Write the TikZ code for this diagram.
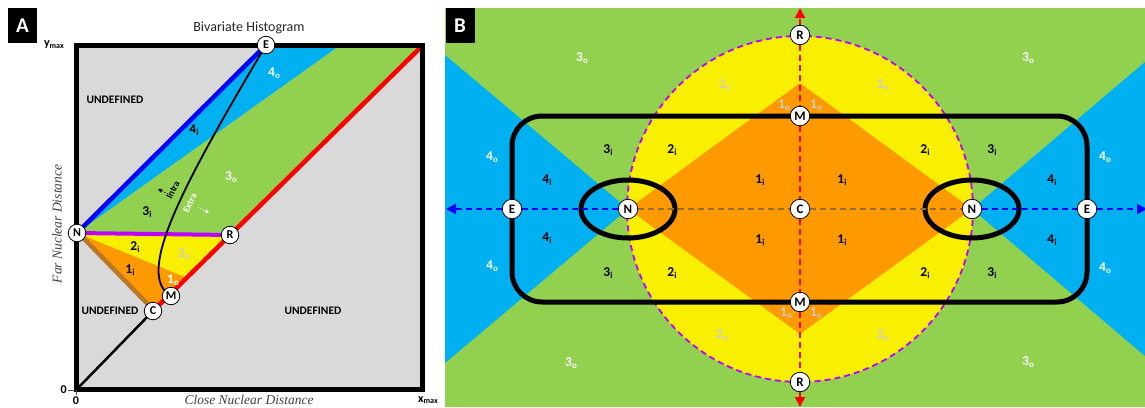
\documentclass[tikz,border=0pt]{standalone}
\usepackage{fontspec}
\setmainfont{Carlito}
\newfontfamily\axfont{Liberation Serif}
\usetikzlibrary{arrows.meta}
\definecolor{cgray}{RGB}{217,217,217}
\definecolor{cgreen}{RGB}{146,208,80}
\definecolor{cblue}{RGB}{0,176,240}
\definecolor{cdblue}{RGB}{0,0,255}
\definecolor{cyellow}{RGB}{248,240,0}
\definecolor{corange}{RGB}{255,153,0}
\definecolor{cbrown}{RGB}{185,120,40}
\definecolor{cmag}{RGB}{190,0,255}
\definecolor{cred}{RGB}{255,0,0}
\definecolor{cdash}{RGB}{150,110,50}
\definecolor{clgray}{RGB}{205,205,205}
\definecolor{ctext}{RGB}{64,64,64}
\pgfdeclarelayer{bg}
\pgfsetlayers{bg,main}
\newcommand\rg[2]{#1\raisebox{-0.3ex}{\fontsize{9}{9}\selectfont #2}}
\tikzset{
  ptA/.style={circle, draw=black, fill=white, line width=0.8pt, inner sep=0pt, minimum size=17.5pt, font=\fontsize{12}{12}\selectfont\bfseries},
  ptB/.style={ptA, minimum size=19.5pt, font=\fontsize{13}{13}\selectfont\bfseries},
  lab/.style={font=\fontsize{13.5}{13.5}\selectfont\bfseries, inner sep=0pt},
  labw/.style={lab, text=white},
  labg/.style={lab, text=clgray},
  undef/.style={font=\fontsize{11.5}{11.5}\selectfont\bfseries, inner sep=0pt},
  panel/.style={fill=black, text=white, minimum width=29pt, minimum height=35pt, inner sep=0pt, font=\fontsize{21}{21}\selectfont\bfseries},
  reddash/.style={cred, line width=2pt, dash pattern=on 6pt off 4pt},
  bluedash/.style={cdblue, line width=2.2pt, dash pattern=on 6pt off 4pt},
  browndash/.style={cdash, line width=1.8pt, dash pattern=on 6pt off 4pt},
  tip/.style={-{Triangle[length=10pt,width=10pt]}},
  axlab/.style={font=\axfont\itshape\fontsize{13.5}{13.5}\selectfont, text=ctext, inner sep=0pt},
  ticklab/.style={font=\fontsize{12}{12}\selectfont\bfseries, inner sep=0pt},
}
\begin{document}
\begin{tikzpicture}[x=1pt,y=-1pt]
\useasboundingbox (0,0) rectangle (1145,407);
% ---------------- nodes ----------------
\node[ptA] (aN) at (77,233) {N};
\node[ptA] (aE) at (266,45) {E};
\node[ptA] (aR) at (230,235) {R};
\node[ptA] (aM) at (171,296) {M};
\node[ptA] (aC) at (153,311) {C};
\coordinate (aO) at (79,387);
\coordinate (aTR) at (420,48);

\node[ptB] (bRt) at (800,35) {R};
\node[ptB] (bMt) at (800,116) {M};
\node[ptB] (bC) at (800,209) {C};
\node[ptB] (bMb) at (800,302) {M};
\node[ptB] (bRb) at (800,382) {R};
\node[ptB] (bNL) at (628,209) {N};
\node[ptB] (bNR) at (972,209) {N};
\node[ptB] (bEL) at (512,209) {E};
\node[ptB] (bER) at (1087,209) {E};
\coordinate (bTop) at (800,8);
\coordinate (bBot) at (800,407);
\coordinate (bLeft) at (446,209);
\coordinate (bRight) at (1147,209);

\begin{pgfonlayer}{bg}
% ---------------- panel A ----------------
\fill[cgray] (79,48) rectangle (420,387);
\fill[cblue] (77,233) -- (266,47) -- (338,47) -- cycle;
\fill[cgreen] (77,233) -- (338,47) -- (421,47) -- (230,235) -- cycle;
\fill[cyellow] (77,233) -- (230,235) -- (187,278) -- cycle;
\fill[corange] (77,233) -- (187,278) -- (153,311) -- cycle;
\draw[cbrown, line width=4.5pt] ([xshift=1.5pt]aN.center) -- ([xshift=1.5pt]aC.center);
\draw[black, line width=2.5pt] (aO) -- (aC.center);
\draw[cred, line width=4.5pt] (aC.center) -- (aTR);
\draw[cdblue, line width=4.5pt] (aN.center) -- (aE.center);
\draw[cmag, line width=4pt] (aN.center) -- (aR.center);
\draw[black, line width=1.8pt] (aE.center) .. controls (180,190) and (135,275) .. (aM.center);
\draw[black, line width=5pt] (76.5,45.5) rectangle (422,389.5);
% ---------------- panel B ----------------
\fill[cgreen] (445,8) rectangle (1145,407);
\fill[cblue] (445,55) -- (628,209) -- (445,363) -- cycle;
\fill[cblue] (1145,62) -- (972,209) -- (1145,356) -- cycle;
\fill[cyellow] (800,209) circle[radius=173pt];
\fill[corange] (628,209) -- (800,83) -- (972,209) -- (800,334) -- cycle;
\draw[cmag, line width=1.8pt, dash pattern=on 6pt off 4pt] (800,209) circle[radius=173pt];
\draw[black, line width=5pt, rounded corners=30pt] (512,116) rectangle (1087,302);
\draw[black, line width=5pt] (628,209) ellipse[x radius=47pt, y radius=29pt];
\draw[black, line width=5pt] (972,209) ellipse[x radius=47pt, y radius=29pt];
\draw[reddash, tip] (bRt) -- (bTop);
\draw[reddash] (bRt) -- (bMt);
\draw[reddash] (bMt) -- (bC);
\draw[reddash] (bC) -- (bMb);
\draw[reddash] (bMb) -- (bRb);
\draw[reddash, tip] (bRb) -- (bBot);
\draw[bluedash] (bNL) -- (bEL);
\draw[bluedash, tip] (bEL) -- (bLeft);
\draw[bluedash] (bNR) -- (bER);
\draw[bluedash, tip] (bER) -- (bRight);
\draw[browndash] (bNL) -- (bC);
\draw[browndash] (bC) -- (bNR);
\end{pgfonlayer}

% ---------------- panel A texts ----------------
\node[panel] (pA) at (22.5,25.5) {A};
\node[font=\fontsize{14}{14}\selectfont, text=black!85, inner sep=0pt] (title) at (249,28) {Bivariate Histogram};
\node[ticklab, anchor=east] (ymax) at (64,45) {y\raisebox{-0.3ex}{\fontsize{8}{8}\selectfont max}};
\node[ticklab] (xmax) at (428,400) {x\raisebox{-0.3ex}{\fontsize{8}{8}\selectfont max}};
\node[ticklab, anchor=east] (y0) at (67,390) {0};
\node[ticklab] (x0) at (76,401) {0};
\draw[black!70, line width=0.6pt] (68,390) -- (76,390);
\draw[black!70, line width=0.6pt] (76,391) -- (76,395);
\node[axlab, rotate=90] (ylab) at (57,224) {Far Nuclear Distance};
\node[axlab] (xlab) at (249,400) {Close Nuclear Distance};
\node[undef] (u1) at (115,100) {UNDEFINED};
\node[undef] (u2) at (110,311) {UNDEFINED};
\node[undef] (u3) at (313,311) {UNDEFINED};
\node[labw] at (274,73) {\rg{4}{o}};
\node[lab] at (194,130) {\rg{4}{i}};
\node[labw] at (231,177) {\rg{3}{o}};
\node[lab] at (147,212) {\rg{3}{i}};
\node[lab] at (135,247) {\rg{2}{i}};
\node[labg] at (184,254) {\rg{2}{o}};
\node[lab] at (130,270) {\rg{1}{i}};
\node[labw] at (173,280) {\rg{1}{o}};
\node[rotate=63, font=\fontsize{9.5}{9.5}\selectfont\bfseries, inner sep=0pt] (intra) at (173,190) {Intra};
\node[rotate=63, font=\fontsize{9.5}{9.5}\selectfont\bfseries, text=white, inner sep=0pt] (extra) at (190,203) {Extra};
\draw[black, line width=1pt, dotted, -{Triangle[length=4pt,width=4pt]}] (168,194) -- (158,189);
\draw[white, line width=1pt, dotted, -{Triangle[length=4pt,width=4pt]}] (198,207) -- (209,213);

% ---------------- panel B texts ----------------
\node[panel] (pB) at (460,25.5) {B};
\node[labw] at (582,58) {\rg{3}{o}};
\node[labw] at (1028,58) {\rg{3}{o}};
\node[labw] at (571,363) {\rg{3}{o}};
\node[labw] at (1028,362) {\rg{3}{o}};
\node[labg] at (725,85) {\rg{2}{o}};
\node[labg] at (883,85) {\rg{2}{o}};
\node[labg] at (722,335) {\rg{2}{o}};
\node[labg] at (883,335) {\rg{2}{o}};
\node[labg] at (784,105) {\rg{1}{o}};
\node[labg] at (816,105) {\rg{1}{o}};
\node[labg] at (786,313) {\rg{1}{o}};
\node[labg] at (816,313) {\rg{1}{o}};
\node[labw] at (492,157) {\rg{4}{o}};
\node[labw] at (492,266) {\rg{4}{o}};
\node[labw] at (1105,157) {\rg{4}{o}};
\node[labw] at (1105,268) {\rg{4}{o}};
\node[lab] at (547,180) {\rg{4}{i}};
\node[lab] at (547,238) {\rg{4}{i}};
\node[lab] at (1052,180) {\rg{4}{i}};
\node[lab] at (1052,240) {\rg{4}{i}};
\node[lab] at (608,150) {\rg{3}{i}};
\node[lab] at (608,273) {\rg{3}{i}};
\node[lab] at (992,150) {\rg{3}{i}};
\node[lab] at (992,273) {\rg{3}{i}};
\node[lab] at (672,150) {\rg{2}{i}};
\node[lab] at (672,273) {\rg{2}{i}};
\node[lab] at (925,150) {\rg{2}{i}};
\node[lab] at (925,273) {\rg{2}{i}};
\node[lab] at (760,180) {\rg{1}{i}};
\node[lab] at (842,180) {\rg{1}{i}};
\node[lab] at (760,240) {\rg{1}{i}};
\node[lab] at (842,240) {\rg{1}{i}};
\end{tikzpicture}
\end{document}
